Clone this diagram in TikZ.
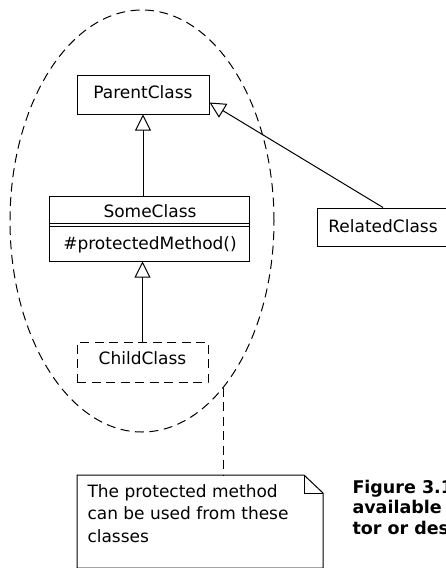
\documentclass[tikz,border=0pt]{standalone}
\usepackage{fontspec}
\setmainfont{DejaVu Sans}
\newfontfamily\capfont{DejaVu Sans}
\usetikzlibrary{shapes.geometric,arrows.meta}
\begin{document}
\begin{tikzpicture}[x=1pt,y=-1pt,line width=1pt,
  lbl/.style={font=\fontsize{17}{22.5}\selectfont},
  classbox/.style={draw, rectangle, inner sep=0pt, lbl, text height=12pt},
  dsh/.style={dash pattern=on 9pt off 5.5pt},
  inherit/.style={-{Triangle[open,length=16pt,width=16pt]}},
  capstyle/.style={font=\capfont\bfseries\fontsize{17.5}{20.5}\selectfont}
]
\useasboundingbox (0,0) rectangle (446,568);
% visibility ellipse
\node[ellipse, draw, dsh, minimum width=264pt, minimum height=422pt, inner sep=0pt] (visib) at (142,221) {};
% classes
\node[classbox, text depth=5pt, minimum width=132pt, minimum height=39pt] (ParentClass) at (143,94.5) {ParentClass};
\node[draw, inner sep=0pt, minimum width=200pt, minimum height=65pt] (SomeClass) at (149,228.5) {};
\node[lbl, anchor=base, inner sep=0pt] (scname) at (150,217) {SomeClass};
\node[lbl, anchor=base, inner sep=0pt] (scmethod) at (150,249) {\#protectedMethod()};
\draw ([yshift=5.5pt]SomeClass.west) -- ([yshift=5.5pt]SomeClass.east);
\draw ([yshift=2.5pt]SomeClass.west) -- ([yshift=2.5pt]SomeClass.east);
\node[classbox, dsh, text depth=8pt, minimum width=131pt, minimum height=40pt] (ChildClass) at (142.5,362) {ChildClass};
\node[classbox, text depth=2pt, minimum width=132pt, minimum height=38pt] (RelatedClass) at (383,227) {RelatedClass};
% generalizations
\draw[inherit] (ParentClass.south |- SomeClass.north) -- (ParentClass.south);
\draw[inherit] (ChildClass.north) -- (ChildClass.north |- SomeClass.south);
\coordinate (pctip) at ([yshift=-8pt]ParentClass.east);
\draw[inherit] (RelatedClass.north) -- (pctip);
% note
\node[inner sep=0pt, minimum width=245pt, minimum height=92pt, anchor=north west] (note) at (77,475) {};
\draw (note.north west) -- ([xshift=-19pt]note.north east) -- ([yshift=-18pt]note.north east) -- (note.south east) -- (note.south west) -- cycle;
\draw ([xshift=-19pt]note.north east) -- ([xshift=-19pt,yshift=-18pt]note.north east) -- ([yshift=-18pt]note.north east);
\node[lbl, anchor=base west, inner sep=0pt] (notetext) at (87,497) {\begin{tabular}[t]{@{}l@{}}The protected method\\can be used from these\\classes\end{tabular}};
\draw[dsh] (visib.-64) -- (visib.-64 |- note.north);
% caption (cropped at the picture's edge, as in the reference)
\node[capstyle, anchor=base west, inner sep=0pt] (caption) at (352,493) {\begin{tabular}[t]{@{}l@{}}Figure 3.1\\available\\tor or des\end{tabular}};
\end{tikzpicture}
\end{document}
